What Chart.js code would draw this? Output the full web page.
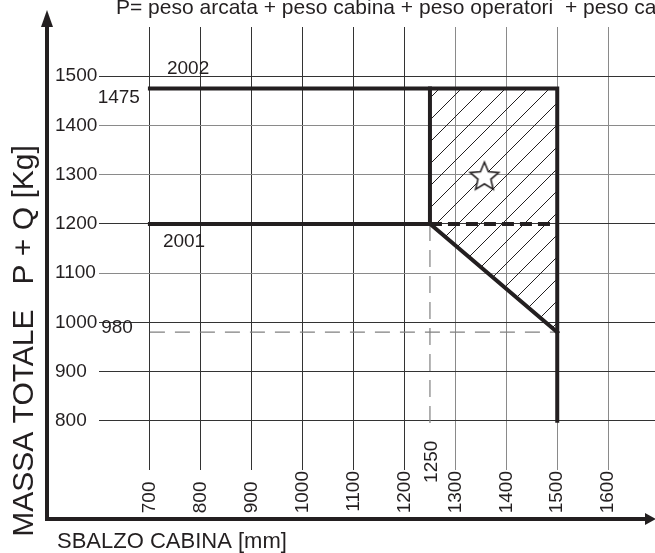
<!DOCTYPE html>
<html>
<head>
<meta charset="utf8"/>
<style>
body { margin: 0; background: #fff; }
canvas { display: block; background: #fff; }
</style>
</head>
<body>
<canvas id="_chart" width="655" height="553"></canvas>
<script src="https://cdn.jsdelivr.net/npm/chart.js"></script>
<script>
const xTicks = [700, 800, 900, 1000, 1100, 1200, 1300, 1400, 1500, 1600];
const yTicks = [800, 900, 1000, 1100, 1200, 1300, 1400, 1500];

// limit lines (sbalzo mm, massa kg)
const limit2002 = [[700, 1475], [1500, 1475], [1500, 800]];
const limit2001 = [[700, 1200], [1250, 1200], [1250, 1475]];
const slope = [[1250, 1200], [1500, 980]];
const dashed1200 = [[1250, 1200], [1500, 1200]];
const area = [[1250, 1475], [1500, 1475], [1500, 980], [1250, 1200], [1250, 1475]];
const guide980 = [[700, 980], [1500, 980]];
const guide1250 = [[1250, 1200], [1250, 780]];
const star = [[1357, 1297]];

const years = ['2002', '2001'];
const yearLevels = [1475, 1200];
const cornerX = 1250;
const minMass = 980;

const note = 'P= peso arcata + peso cabina + peso operatori  + peso carico';
const xTitle = 'SBALZO CABINA [mm]';
const yTitle = 'MASSA TOTALE   P + Q [Kg]';

const ink = '#231f20';
const FONT = '"Liberation Sans", Arial, sans-serif';

const pts = a => a.map(([x, y]) => ({x, y}));

const cvs = document.getElementById('_chart');
const cctx = cvs.getContext('2d');

function hatch(step) {
	const c = document.createElement('canvas');
	c.width = c.height = step;
	const g = c.getContext('2d');
	g.strokeStyle = ink;
	g.lineWidth = 1;
	g.beginPath();
	g.moveTo(0, step); g.lineTo(step, 0);
	g.moveTo(-step / 2, step / 2); g.lineTo(step / 2, -step / 2);
	g.moveTo(step / 2, step * 1.5); g.lineTo(step * 1.5, step / 2);
	g.stroke();
	return cctx.createPattern(c, 'repeat');
}

function starIcon(r) {
	const s = Math.ceil(r * 2 + 4);
	const c = document.createElement('canvas');
	c.width = c.height = s;
	const g = c.getContext('2d');
	g.beginPath();
	for (let i = 0; i < 10; i++) {
		const a = -Math.PI / 2 + i * Math.PI / 5;
		const rr = i % 2 ? r * 0.45 : r;
		g.lineTo(s / 2 + rr * Math.cos(a), s / 2 + 1 + rr * Math.sin(a));
	}
	g.closePath();
	g.fillStyle = '#fff';
	g.fill();
	g.strokeStyle = ink;
	g.lineWidth = 1.6;
	g.stroke();
	return c;
}

// keep the plot area where it is: no extra margins from tick labels
function fixBox(s, size) {
	if (s.isHorizontal()) s.height = size; else s.width = size;
	s.paddingLeft = s.paddingRight = s.paddingTop = s.paddingBottom = 0;
}

const thick = {showLine: true, borderColor: ink, borderWidth: 4, pointRadius: 0, fill: false, borderCapStyle: 'square', borderJoinStyle: 'miter'};
const thin = {showLine: true, borderColor: '#808080', borderWidth: 1.2, pointRadius: 0, fill: false, borderDash: [15, 10]};

const decor = {
	id: 'decor',
	afterDraw(chart) {
		const {ctx, scales: {x, y}} = chart;
		ctx.save();
		ctx.fillStyle = ink;
		// axes with arrows
		ctx.fillRect(45, 24, 4, 497);
		ctx.beginPath();
		ctx.moveTo(47, 10); ctx.lineTo(41, 27); ctx.lineTo(53, 27);
		ctx.fill();
		ctx.fillRect(45, 517, 602, 4);
		ctx.beginPath();
		ctx.moveTo(656, 519); ctx.lineTo(645, 513); ctx.lineTo(645, 525);
		ctx.fill();

		ctx.textBaseline = 'alphabetic';
		ctx.font = '21px ' + FONT;
		ctx.textAlign = 'left';
		ctx.fillText(note, 116, 14);

		ctx.font = '22px ' + FONT;
		ctx.fillText(xTitle, 57, 548);

		ctx.save();
		ctx.translate(33, 341);
		ctx.rotate(-Math.PI / 2);
		ctx.font = '30px ' + FONT;
		ctx.textAlign = 'center';
		ctx.fillText(yTitle, 0, 0);
		ctx.restore();

		ctx.font = '19px ' + FONT;
		ctx.textAlign = 'center';
		ctx.fillText(years[0], x.getPixelForValue(775), y.getPixelForValue(yearLevels[0]) - 15);
		ctx.fillText(years[1], x.getPixelForValue(767), y.getPixelForValue(yearLevels[1]) + 23);
		ctx.textAlign = 'right';
		ctx.fillText(String(yearLevels[0]), x.getPixelForValue(700) - 10, y.getPixelForValue(yearLevels[0]) + 14);
		ctx.fillText(String(minMass), x.getPixelForValue(700) - 17, y.getPixelForValue(minMass) + 1);

		ctx.save();
		ctx.translate(x.getPixelForValue(cornerX) + 7, y.getPixelForValue(guide1250[1][1]) + 10);
		ctx.rotate(-Math.PI / 2);
		ctx.fillText(String(cornerX), 0, 0);
		ctx.restore();

		ctx.restore();
	}
};

new Chart(cvs, {
	type: 'scatter',
	data: {
		datasets: [
			{data: pts(star), pointStyle: starIcon(15), pointRadius: 15, showLine: false},
			{...thick, data: pts(limit2002)},
			{...thick, data: pts(limit2001)},
			{...thick, data: pts(slope)},
			{...thick, data: pts(dashed1200), borderDash: [12, 6], borderCapStyle: 'butt'},
			{...thin, data: pts(guide980)},
			{...thin, data: pts(guide1250), borderDash: [17, 9]},
			{data: pts(area), showLine: true, borderWidth: 0, pointRadius: 0, fill: 'shape', backgroundColor: hatch(22)},
		]
	},
	options: {
		responsive: false,
		animation: false,
		layout: {autoPadding: false, padding: {top: 27, left: 55, right: 0, bottom: 0}},
		plugins: {legend: {display: false}, tooltip: {enabled: false}},
		scales: {
			x: {
				type: 'linear',
				min: 600,
				max: 1692,
				afterFit: s => fixBox(s, 83),
				afterBuildTicks: s => { s.ticks = xTicks.map(v => ({value: v})); },
				border: {display: false},
				grid: {
					drawTicks: false,
					lineWidth: 1,
					color: c => c.tick && c.tick.value >= 1300 ? '#8a8a8a' : '#333',
				},
				ticks: {
					autoSkip: false,
					minRotation: 90,
					maxRotation: 90,
					padding: 1,
					color: ink,
					font: {family: FONT, size: 19},
					callback: v => v >= 1000 ? String(v) : v + '  ',
				},
			},
			y: {
				type: 'linear',
				min: 700,
				max: 1600,
				afterFit: s => fixBox(s, 44),
				afterBuildTicks: s => { s.ticks = yTicks.map(v => ({value: v})); },
				border: {display: false},
				grid: {
					drawTicks: false,
					lineWidth: 1,
					color: c => c.tick && [1100, 1300, 1400].includes(c.tick.value) ? '#8a8a8a' : '#333',
				},
				ticks: {
					crossAlign: 'far',
					padding: 2,
					color: ink,
					font: {family: FONT, size: 19},
					callback: v => String(v),
				},
			},
		},
	},
	plugins: [decor],
});
</script>
</body>
</html>
